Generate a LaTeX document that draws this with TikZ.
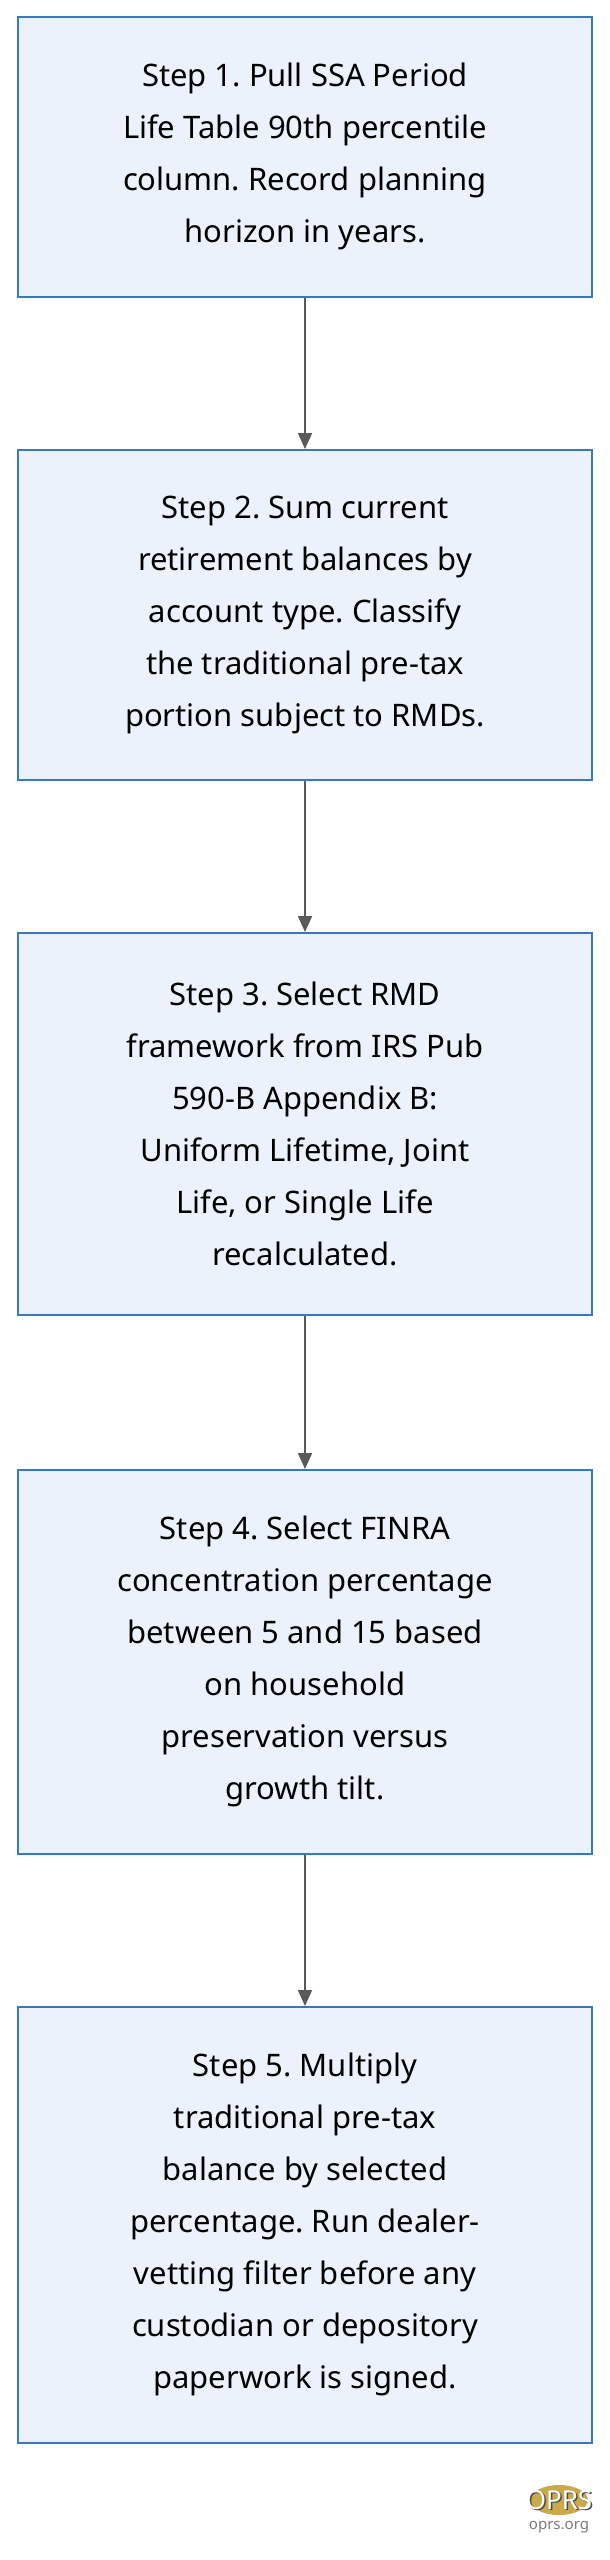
\documentclass[tikz,border=0pt]{standalone}
\usepackage{fontspec}
\setmainfont{Noto Sans}
\usetikzlibrary{positioning, shapes.geometric, arrows.meta}
\definecolor{boxfill}{HTML}{EBF2FB}
\definecolor{boxline}{HTML}{3A78BE}
\definecolor{arrowgray}{HTML}{5A5A5A}
\definecolor{logogold}{HTML}{C9A94A}
\frenchspacing
\begin{document}
\begin{tikzpicture}[x=1pt,y=1pt,
  stepbox/.style={draw=boxline, fill=boxfill, line width=1.5pt, minimum width=574pt,
    align=center, font=\fontsize{31}{52}\selectfont, inner sep=0pt},
  flow/.style={-{Triangle[length=16pt,width=14pt]}, draw=arrowgray, line width=1.8pt}]
  \useasboundingbox (0,0) rectangle (610,-2560);
  \fill[white] (0,0) rectangle (610,-2560);

  \node[stepbox, minimum height=280pt, anchor=north] (s1) at (305,-16)
    {Step 1. Pull SSA Period\\Life Table 90th percentile\\column. Record planning\\horizon in years.};
  \node[stepbox, minimum height=330pt, anchor=north] (s2) at (305,-449)
    {Step 2. Sum current\\retirement balances by\\account type. Classify\\the traditional pre-tax\\portion subject to RMDs.};
  \node[stepbox, minimum height=382pt, anchor=north] (s3) at (305,-932)
    {Step 3. Select RMD\\framework from IRS Pub\\590-B Appendix B:\\Uniform Lifetime, Joint\\Life, or Single Life\\recalculated.};
  \node[stepbox, minimum height=384pt, anchor=north] (s4) at (305,-1469)
    {Step 4. Select FINRA\\concentration percentage\\between 5 and 15 based\\on household\\preservation versus\\growth tilt.};
  \node[stepbox, minimum height=436pt, anchor=north] (s5) at (305,-2006)
    {Step 5. Multiply\\traditional pre-tax\\balance by selected\\percentage. Run dealer-\\vetting filter before any\\custodian or depository\\paperwork is signed.};

  \draw[flow] (s1) -- (s2);
  \draw[flow] (s2) -- (s3);
  \draw[flow] (s3) -- (s4);
  \draw[flow] (s4) -- (s5);

  % logo
  \node[ellipse, fill=logogold, minimum width=58pt, minimum height=30pt, inner sep=0pt] (logo) at (559,-2500) {};
  \node[font=\bfseries\fontsize{26}{26}\selectfont, text=black!70] (logoshadow) at ([shift={(1.5pt,-1.5pt)}]logo) {OPRS};
  \node[font=\bfseries\fontsize{26}{26}\selectfont, text=white] (logotext) at (logo) {OPRS};
  \node[font=\bfseries\fontsize{15}{15}\selectfont, text=arrowgray!80, below=3pt of logo] (site) {oprs.org};
\end{tikzpicture}
\end{document}
